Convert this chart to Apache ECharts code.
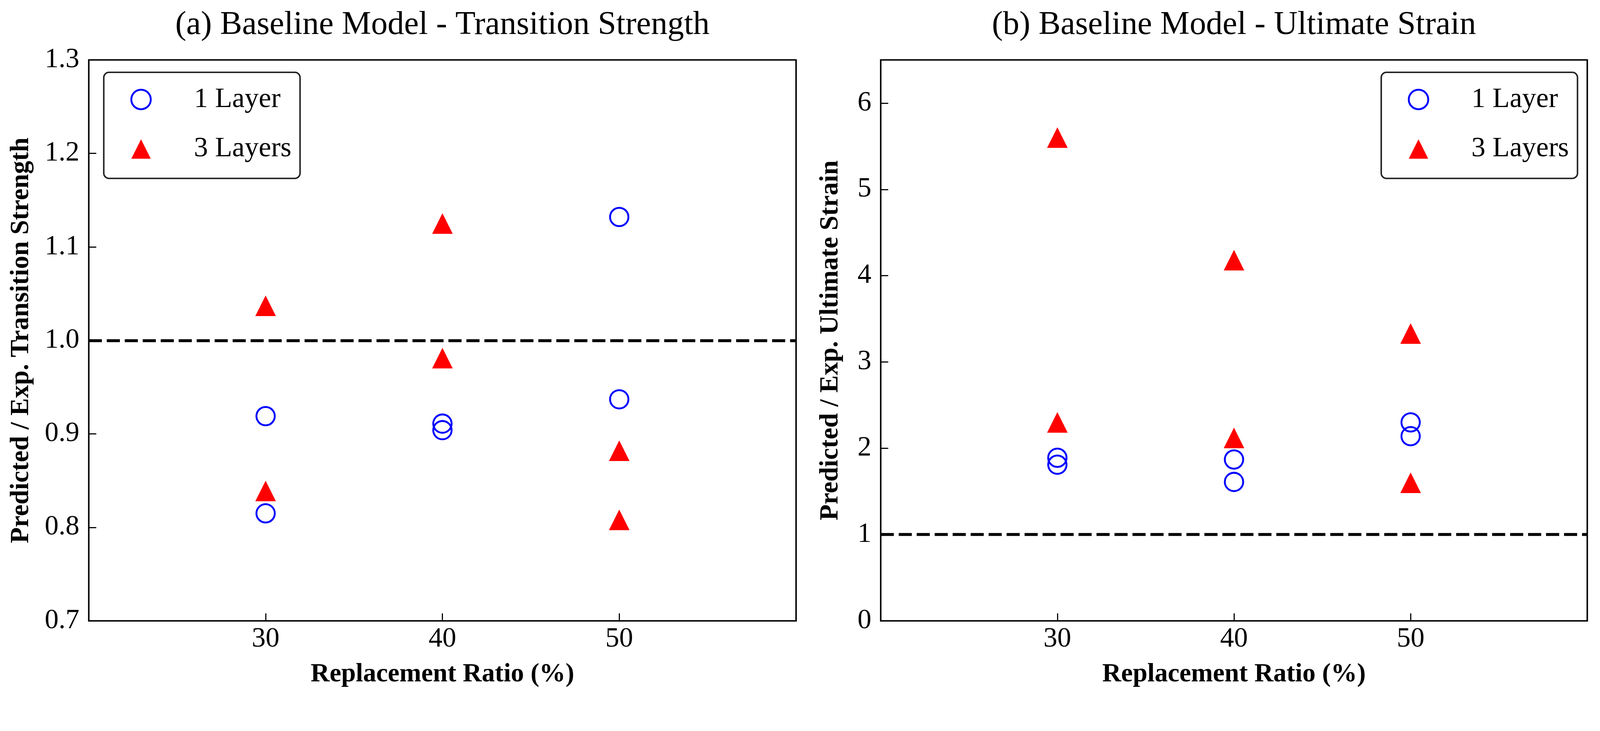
<!DOCTYPE html>
<html>
<head>
<meta charset="utf-8">
<script src="https://cdn.jsdelivr.net/npm/echarts@6/dist/echarts.min.js"></script>
<style>
html,body{margin:0;padding:0;background:#fff;overflow:hidden;}
#chart{position:absolute;left:0;top:0;}
</style>
</head>
<body>
<div id="chart"></div>
<script>
// ---- data ----
const ratios = [30, 30, 40, 40, 50, 50];
const xTicks = [30, 40, 50];
const strengthOneLayer = [0.919, 0.815, 0.911, 0.904, 1.132, 0.937];
const strengthThreeLayers = [1.037, 0.839, 1.125, 0.981, 0.882, 0.808];
const strainOneLayer = [1.89, 1.81, 1.87, 1.61, 2.30, 2.14];
const strainThreeLayers = [5.60, 2.30, 4.18, 2.12, 3.33, 1.60];
const yTicksStrength = [0.7, 0.8, 0.9, 1.0, 1.1, 1.2, 1.3];
const yTicksStrain = [0, 1, 2, 3, 4, 5, 6];
const referenceRatio = 1;
const seriesNames = ['1 Layer', '3 Layers'];
const panelTitles = ['(a) Baseline Model - Transition Strength', '(b) Baseline Model - Ultimate Strain'];
const xAxisTitle = 'Replacement Ratio (%)';
const yAxisTitles = ['Predicted / Exp. Transition Strength', 'Predicted / Exp. Ultimate Strain'];

// ---- layout (designed for 4271 x 1871, scaled to the actual viewport) ----
const W0 = 4271, H0 = 1871;
const vw = window.innerWidth || W0, vh = window.innerHeight || H0;
const s = Math.min(vw / W0, vh / H0);
const px = v => v * s;
const el = document.getElementById('chart');
el.style.width = vw + 'px';
el.style.height = vh + 'px';

const FONT = 'Liberation Serif, Times New Roman, serif';
const BLUE = '#0000ff';
const RED = '#ff0000';

function pairs(xs, ys) { return xs.map((x, i) => [x, ys[i]]); }

function xAxisFor(gridIndex) {
  return {
    type: 'value', gridIndex: gridIndex, min: 20, max: 60,
    name: xAxisTitle, nameLocation: 'middle', nameGap: px(108),
    nameTextStyle: {fontFamily: FONT, fontSize: px(70), fontWeight: 'bold', color: '#000'},
    axisLine: {show: false},
    axisTick: {show: true, inside: true, length: px(20), lineStyle: {color: '#000', width: px(3)}, customValues: xTicks},
    axisLabel: {show: true, margin: px(12), fontFamily: FONT, fontSize: px(74), color: '#000', customValues: xTicks},
    splitLine: {show: false}
  };
}

function yAxisFor(gridIndex, ticks, maxV, gap, fmt) {
  return {
    type: 'value', gridIndex: gridIndex, min: ticks[0], max: maxV,
    name: yAxisTitles[gridIndex], nameLocation: 'middle', nameGap: px(gap),
    nameTextStyle: {fontFamily: FONT, fontSize: px(70), fontWeight: 'bold', color: '#000'},
    axisLine: {show: false},
    axisTick: {show: true, inside: true, length: px(20), lineStyle: {color: '#000', width: px(3)}, customValues: ticks},
    axisLabel: {show: true, margin: px(25), fontFamily: FONT, fontSize: px(74), color: '#000', customValues: ticks, formatter: fmt},
    splitLine: {show: false}
  };
}

function circleSeries(idx, ys) {
  return {
    name: seriesNames[0], type: 'scatter', xAxisIndex: idx, yAxisIndex: idx,
    data: pairs(ratios, ys), symbol: 'circle', symbolSize: px(49),
    itemStyle: {color: 'rgba(0,0,0,0)', borderColor: BLUE, borderWidth: px(5), opacity: 1},
    emphasis: {disabled: true}, z: 3,
    markLine: {
      silent: true, symbol: ['none', 'none'], label: {show: false},
      lineStyle: {color: '#000', width: px(8), type: [px(35), px(13)], opacity: 1},
      emphasis: {disabled: true},
      data: [{yAxis: referenceRatio}]
    }
  };
}

function triangleSeries(idx, ys) {
  return {
    name: seriesNames[1], type: 'scatter', xAxisIndex: idx, yAxisIndex: idx,
    data: pairs(ratios, ys), symbol: 'triangle', symbolSize: px(55),
    itemStyle: {color: RED, opacity: 1},
    emphasis: {disabled: true}, z: 3
  };
}

function legendFor(left) {
  return {
    orient: 'vertical', left: px(left), top: px(193),
    padding: [px(35), px(23), px(41), px(71)],
    itemWidth: px(52), itemHeight: px(52), itemGap: px(57),
    borderColor: '#222', borderWidth: px(4), borderRadius: px(14),
    backgroundColor: '#fff',
    selectedMode: false,
    textStyle: {fontFamily: FONT, fontSize: px(75), color: '#000', lineHeight: px(52), padding: [0, 0, 0, px(110)]},
    data: [
      {name: seriesNames[0], icon: 'circle', itemStyle: {color: 'rgba(0,0,0,0)', borderColor: BLUE, borderWidth: px(5), opacity: 1}},
      {name: seriesNames[1], icon: 'triangle', itemStyle: {color: RED, borderWidth: 0, opacity: 1}}
    ]
  };
}

function gridFor(left, width) {
  return {left: px(left), top: px(160), width: px(width), height: px(1497), show: true,
          borderColor: '#000', borderWidth: px(4), backgroundColor: 'rgba(0,0,0,0)',
          containLabel: false, outerBoundsMode: 'none'};
}

function titleFor(text, center) {
  return {text: text, left: px(center), top: px(24), textAlign: 'center', textVerticalAlign: 'top', padding: 0,
          textStyle: {fontFamily: FONT, fontSize: px(88), fontWeight: 'normal', color: '#000'}};
}

const chart = echarts.init(el, null, {renderer: 'canvas'});
chart.setOption({
  backgroundColor: '#fff',
  animation: false,
  title: [titleFor(panelTitles[0], 1181), titleFor(panelTitles[1], 3294)],
  grid: [gridFor(237, 1888), gridFor(2351, 1886)],
  xAxis: [xAxisFor(0), xAxisFor(1)],
  yAxis: [
    yAxisFor(0, yTicksStrength, 1.3, 145, v => Number(v).toFixed(1)),
    yAxisFor(1, yTicksStrain, 6.5, 99, v => String(Math.round(v)))
  ],
  legend: [legendFor(277), legendFor(3687)],
  series: [
    circleSeries(0, strengthOneLayer),
    triangleSeries(0, strengthThreeLayers),
    circleSeries(1, strainOneLayer),
    triangleSeries(1, strainThreeLayers)
  ]
});
</script>
</body>
</html>
